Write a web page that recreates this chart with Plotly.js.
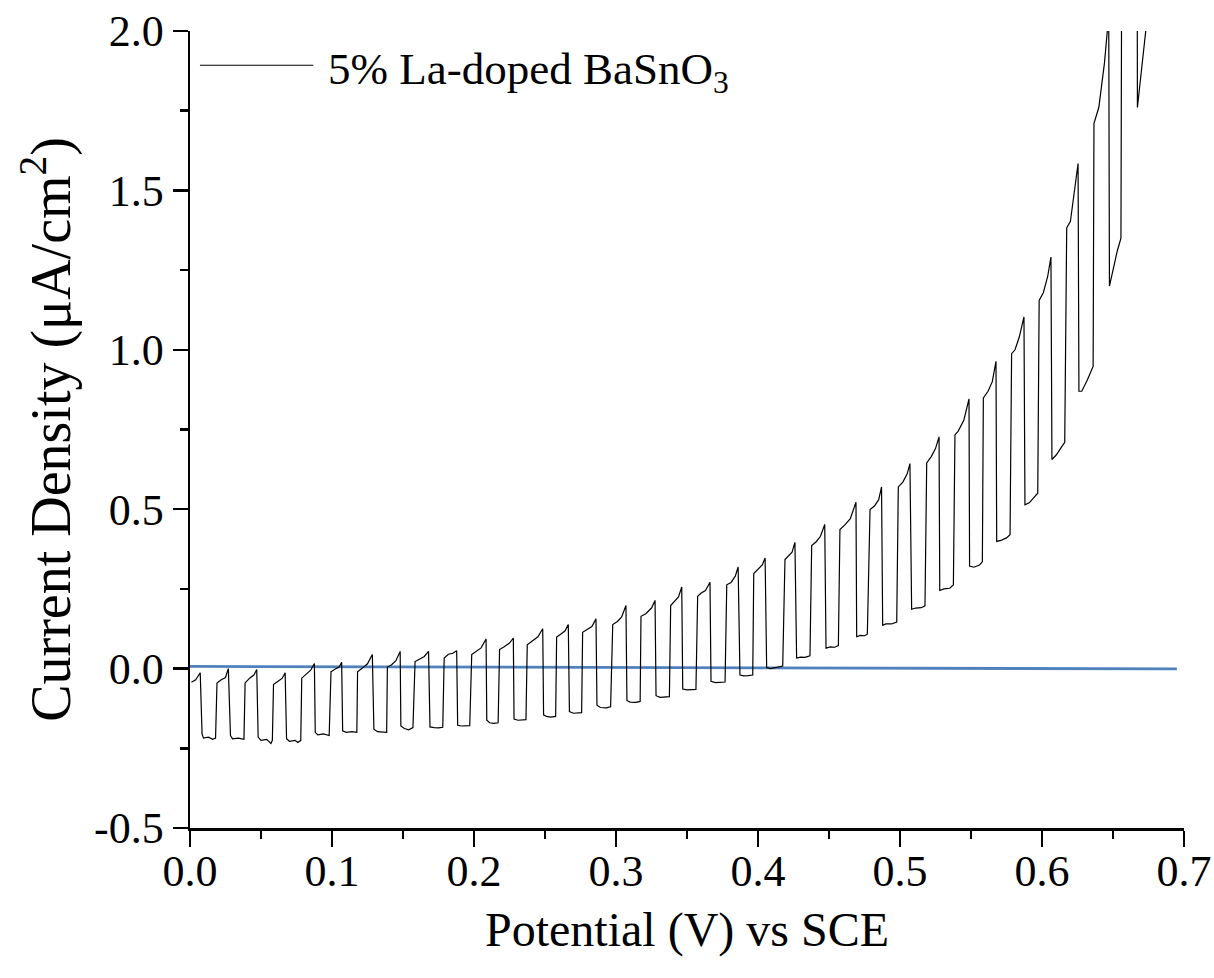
<!DOCTYPE html>
<html>
<head>
<meta charset="utf-8">
<script src="https://cdn.plot.ly/plotly-3.0.1.min.js"></script>
<style>html,body{margin:0;padding:0;background:#fff}#chart{width:1214px;height:978px}</style>
</head>
<body>
<div id="chart"></div>
<script>
// Chopped-light photocurrent (black)
var potential = [
0.001,0.004,0.0072,0.0085,0.0095,0.013,0.016,0.018,
0.019,0.022,0.025,0.027,0.0285,0.030,0.034,0.038,
0.0388,0.042,0.045,0.047,0.048,0.050,0.054,0.057,0.058,
0.0588,0.062,0.065,0.067,0.068,0.070,0.074,0.076,0.078,
0.0787,0.082,0.085,0.0876,0.0882,0.090,0.094,0.098,
0.0993,0.102,0.105,0.1068,0.1075,0.110,0.114,0.1175,
0.118,0.121,0.125,0.1284,0.1295,0.132,0.136,0.1385,
0.139,0.142,0.145,0.148,0.1485,0.151,0.154,0.157,
0.1585,0.162,0.165,0.168,0.169,0.172,0.175,0.178,
0.179,0.182,0.185,0.1878,0.1885,0.191,0.194,0.197,
0.1984,0.201,0.205,0.2085,0.209,0.211,0.214,0.217,
0.218,0.221,0.225,0.2277,0.2282,0.231,0.234,0.2366,
0.2375,0.241,0.245,0.2484,0.249,0.251,0.254,0.2575,
0.2582,0.261,0.264,0.2664,0.2672,0.270,0.273,0.2758,
0.2765,0.279,0.283,0.2859,0.2866,0.289,0.293,0.2962,
0.2977,0.301,0.304,0.307,0.3077,0.310,0.314,0.317,
0.3176,0.321,0.325,0.3275,0.3282,0.331,0.334,0.3376,
0.3385,0.341,0.344,0.3463,0.347,0.350,0.353,0.3563,
0.3575,0.360,0.363,0.3662,0.3669,0.370,0.373,0.3768,
0.378,0.381,0.384,0.386,0.3873,0.390,0.393,0.3963,
0.397,0.400,0.403,0.405,0.4061,0.409,0.413,0.4174,
0.419,0.422,0.424,0.426,0.4272,0.430,0.433,0.4366,
0.4378,0.441,0.444,0.447,0.4479,0.451,0.454,0.4566,
0.4577,0.461,0.465,0.469,0.4695,0.472,0.475,0.477,
0.4789,0.482,0.485,0.487,0.4878,0.490,0.494,0.4977,
0.4988,0.502,0.505,0.507,0.5082,0.511,0.515,0.5176,
0.5188,0.522,0.525,0.5275,0.528,0.531,0.535,0.5376,
0.5387,0.541,0.545,0.5486,0.549,0.552,0.556,0.558,
0.5587,0.562,0.565,0.5676,0.5681,0.571,0.575,0.5775,
0.5786,0.581,0.584,0.5873,0.588,0.591,0.594,0.597,
0.598,0.601,0.604,0.6063,0.607,0.610,0.613,0.616,
0.6174,0.620,0.622,0.6254,0.626,0.628,0.632,0.636,
0.6366,0.640,0.644,0.6465,0.647,0.6475,0.650,0.653,0.6556,
0.6562,0.660,0.664,0.6669,0.6672,0.6732,0.675
];
var current = [
-0.043,-0.035,-0.013,-0.205,-0.218,-0.215,-0.222,-0.218,
-0.045,-0.035,-0.028,0.000,-0.210,-0.220,-0.218,-0.222,
-0.045,-0.030,-0.020,-0.003,-0.215,-0.225,-0.222,-0.235,-0.225,
-0.050,-0.040,-0.030,-0.013,-0.220,-0.228,-0.225,-0.232,-0.225,
-0.030,-0.018,-0.005,0.016,-0.200,-0.208,-0.205,-0.210,
-0.010,-0.002,0.005,0.020,-0.195,-0.200,-0.198,-0.200,
-0.010,0.000,0.015,0.044,-0.190,-0.198,-0.200,-0.200,
0.005,0.012,0.025,0.054,-0.180,-0.188,-0.192,-0.185,
0.022,0.030,0.038,0.054,-0.183,-0.185,-0.186,-0.184,
0.033,0.045,0.048,0.056,-0.178,-0.180,-0.180,-0.179,
0.044,0.052,0.065,0.093,-0.162,-0.170,-0.172,-0.170,
0.060,0.068,0.080,0.096,-0.158,-0.162,-0.160,-0.160,
0.075,0.088,0.100,0.125,-0.145,-0.150,-0.152,-0.150,
0.099,0.108,0.118,0.138,-0.135,-0.140,-0.140,-0.138,
0.114,0.120,0.132,0.156,-0.115,-0.122,-0.123,-0.120,
0.138,0.148,0.162,0.198,-0.100,-0.105,-0.106,-0.103,
0.164,0.172,0.190,0.214,-0.085,-0.090,-0.089,-0.088,
0.198,0.210,0.225,0.256,-0.064,-0.067,-0.066,-0.065,
0.227,0.237,0.245,0.271,-0.040,-0.044,-0.043,-0.042,
0.263,0.270,0.290,0.319,-0.020,-0.023,-0.022,-0.020,
0.298,0.310,0.325,0.347,0.003,0.000,0.003,0.008,
0.342,0.355,0.365,0.396,0.033,0.036,0.035,0.040,
0.386,0.398,0.415,0.452,0.064,0.068,0.067,0.072,
0.436,0.450,0.470,0.522,0.100,0.104,0.103,0.108,
0.499,0.510,0.530,0.570,0.136,0.140,0.140,0.146,
0.570,0.585,0.610,0.643,0.186,0.190,0.191,0.197,
0.645,0.665,0.690,0.727,0.245,0.250,0.252,0.262,
0.733,0.745,0.780,0.846,0.322,0.318,0.325,0.335,
0.849,0.870,0.900,0.964,0.399,0.402,0.410,0.420,
0.988,1.000,1.040,1.103,0.514,0.520,0.535,0.550,
1.155,1.180,1.230,1.291,0.656,0.670,0.690,0.710,
1.382,1.403,1.470,1.584,0.870,0.870,0.906,0.948,
1.710,1.760,1.900,2.004,2.050,1.200,1.250,1.310,1.350,
2.350,2.400,2.500,2.600,1.760,2.004,2.080
];
// Dark reference (blue)
var refPotential = [0.0, 0.1, 0.2, 0.3, 0.4, 0.5, 0.6, 0.695];
var refCurrent = [0.007, 0.006, 0.005, 0.004, 0.002, 0.001, 0.0, -0.001];

var seriesName = "5% La-doped BaSnO<sub>3</sub>";
var xTicks = [0.0, 0.1, 0.2, 0.3, 0.4, 0.5, 0.6, 0.7];
var xTickText = ["0.0","0.1","0.2","0.3","0.4","0.5","0.6","0.7"];
var yTicks = [-0.5, 0.0, 0.5, 1.0, 1.5, 2.0];
var yTickText = ["-0.5","0.0","0.5","1.0","1.5","2.0"];

var FONT = "'Liberation Serif', 'Times New Roman', serif";

var traces = [
  {x: refPotential, y: refCurrent, mode: "lines", line: {color: "#4f81bd", width: 2.8}, showlegend: false, hoverinfo: "skip"},
  {x: potential, y: current, mode: "lines", name: seriesName, line: {color: "#000000", width: 1.2}, showlegend: false}
];

var layout = {
  width: 1214, height: 978,
  margin: {l: 190, r: 30, t: 31, b: 150},
  paper_bgcolor: "#ffffff", plot_bgcolor: "#ffffff",
  font: {family: FONT, size: 43, color: "#000"},
  showlegend: false,
  xaxis: {
    range: [0, 0.7], tickvals: xTicks, ticktext: xTickText,
    showline: true, linecolor: "#000", linewidth: 2.5,
    ticks: "outside", ticklen: 16, tickwidth: 2.5, tickcolor: "#000",
    minor: {dtick: 0.05, tick0: 0, ticks: "outside", ticklen: 8, tickwidth: 2.5, tickcolor: "#000"},
    showgrid: false, zeroline: false, mirror: false,
    ticklabelstandoff: -13,
    tickfont: {family: FONT, size: 44},
    title: {text: "Potential (V) vs SCE", font: {family: FONT, size: 48}, standoff: 17}
  },
  yaxis: {
    range: [-0.5, 2.0], tickvals: yTicks, ticktext: yTickText,
    showline: true, linecolor: "#000", linewidth: 2.5,
    ticks: "outside", ticklen: 15, tickwidth: 2.5, tickcolor: "#000",
    minor: {dtick: 0.25, tick0: 0, ticks: "outside", ticklen: 8, tickwidth: 2.5, tickcolor: "#000"},
    showgrid: false, zeroline: false, mirror: false,
    tickfont: {family: FONT, size: 44},
    title: {text: "Current Density (\u03bcA/cm<sup>2</sup>)", font: {family: FONT, size: 56}, standoff: 6}
  },
  shapes: [
    {type: "line", xref: "paper", yref: "paper", x0: 0.01, x1: 0.124, y0: 0.957, y1: 0.957, line: {color: "#000", width: 1.2}}
  ],
  annotations: [
    {xref: "paper", yref: "paper", x: 0.137, y: 0.949, xanchor: "left", yanchor: "middle", showarrow: false,
     text: seriesName, font: {family: FONT, size: 45, color: "#000"}}
  ]
};

Plotly.newPlot("chart", traces, layout, {displayModeBar: false, staticPlot: true});
</script>
</body>
</html>
